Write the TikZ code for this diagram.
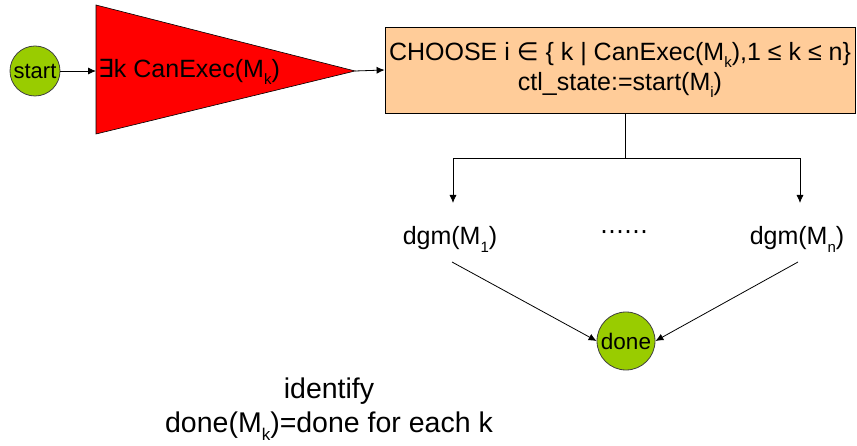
\documentclass[tikz,border=0pt]{standalone}
\usepackage{fontspec}
\setmainfont{Liberation Sans}
\newfontfamily\symf{DejaVu Sans}
\usetikzlibrary{arrows.meta}
\definecolor{lime}{HTML}{99CC00}
\definecolor{peach}{HTML}{FFCC99}
\newcommand\subsc[1]{\raisebox{-0.3em}{\fontsize{15}{15}\selectfont #1}}
\newcommand\subsb[1]{\raisebox{-0.3em}{\fontsize{17}{17}\selectfont #1}}
\begin{document}
\begin{tikzpicture}[x=1pt,y=-1pt,
  arr/.style={-{Latex[length=8pt,width=7pt]}, line width=0.8pt},
  state/.style={circle, draw=black!75, fill=lime, line width=0.8pt, inner sep=0pt},
  txt/.style={font=\fontsize{25}{30}\selectfont, inner sep=0pt},
  bigtxt/.style={font=\fontsize{28.5}{34}\selectfont, inner sep=0pt}]
\useasboundingbox (0,0) rectangle (857,446);
\node[state, minimum size=50pt, font=\fontsize{22}{22}\selectfont] (start) at (35,71) {start};
\coordinate (tl) at (96,5);
\coordinate (bl) at (96,134);
\coordinate (tip) at (355,71);
\coordinate (tw) at (96,71);
\draw[fill=red, line width=0.6pt] (tl) -- (tip) -- (bl) -- cycle;
\node[txt, anchor=west] (cond) at (98,72) {{\symf ∃}k CanExec(M\subsc{k})};
\node[draw, fill=peach, line width=0.8pt, minimum width=470pt, minimum height=86pt, inner sep=0pt, txt, align=center] (box) at (620,70)
  {CHOOSE i {\symf ∈} \{ k | CanExec(M\subsc{k}),1 ≤ k ≤ n\}\\ ctl\_state:=start(M\subsc{i})};
\draw[arr] (start) -- (tw);
\draw[arr] (tip) -- (box.west);
\coordinate (split) at (625,158);
\coordinate (a1) at (453,203);
\coordinate (an) at (800,203);
\coordinate (b1) at (452,262);
\coordinate (bn) at (798,262);
\node[txt, anchor=base] (d1) at (450,245) {dgm(M\subsc{1})};
\node[txt, anchor=base] (dn) at (797,245) {dgm(M\subsc{n})};
\node[font=\symf\fontsize{24}{24}\selectfont, inner sep=0pt] (dots) at (624,235) {⋯⋯};
\node[state, minimum size=58pt, font=\fontsize{22.5}{22.5}\selectfont] (done) at (626,341) {done};
\draw[line width=0.8pt] (box.south -| split) -- (split);
\draw[arr] (split) -| (a1);
\draw[arr] (split) -| (an);
\draw[arr] (b1) -- (done.west);
\draw[arr] (bn) -- (done.east);
\node[bigtxt, anchor=base] (ident) at (329,398) {identify};
\node[bigtxt, anchor=base] (note) at (329,432) {done(M\subsb{k})=done for each k};
\end{tikzpicture}
\end{document}
